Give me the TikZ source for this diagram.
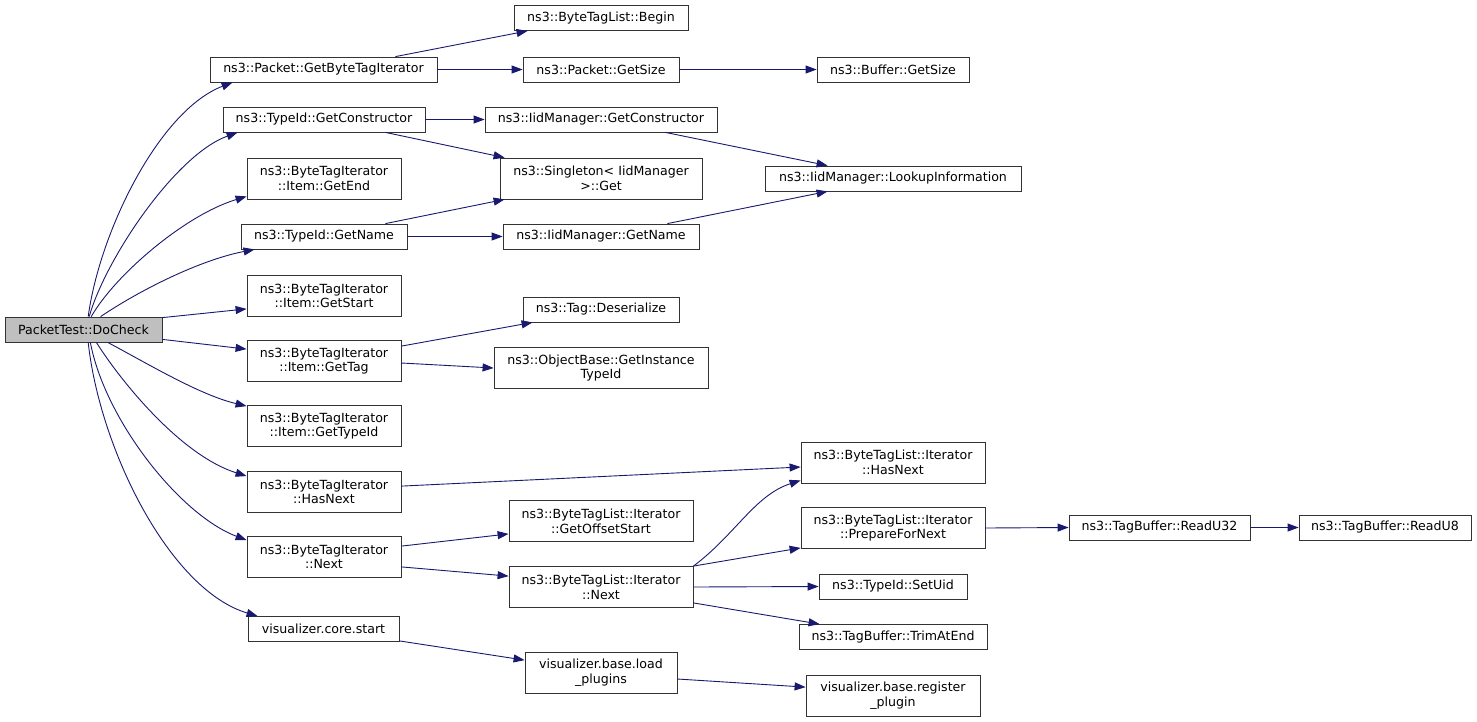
\documentclass[tikz,border=0pt]{standalone}
\usepackage{fontspec}
\setmainfont{DejaVu Sans}
\usepackage{tikz}
\usetikzlibrary{arrows.meta,positioning}
\definecolor{callblue}{HTML}{191970}
\definecolor{docgray}{HTML}{BFBFBF}
\newcommand{\fnfont}{\fontsize{12.6}{14.7}\selectfont}
\tikzset{
  fn/.style={draw=black!80,fill=white,line width=0.8pt,font=\fnfont,align=center,inner sep=2pt,minimum height=25},
  fntwo/.style={fn,minimum height=41},
  call/.style={draw=callblue,line width=0.9pt,-{Triangle[length=11pt,width=8pt]}}
}
\begin{document}
\begin{tikzpicture}[x=1pt,y=-1pt]
\path[fill=white,use as bounding box] (0,0) rectangle (1477,721);
% caller
\node[fn,fill=docgray,minimum width=157] (dochk) at (83.5,329.5) {PacketTest::DoCheck};
% first level callees
\node[fn,minimum width=227] (gbti) at (323.5,69.5) {ns3::Packet::GetByteTagIterator};
\node[fn,minimum width=202] (tgcons) at (324,119.5) {ns3::TypeId::GetConstructor};
\node[fntwo,minimum width=154] (itend) at (324,178.5) {ns3::ByteTagIterator\\::Item::GetEnd};
\node[fn,minimum width=166] (tgname) at (324,236.5) {ns3::TypeId::GetName};
\node[fntwo,minimum width=154] (itstart) at (324,296) {ns3::ByteTagIterator\\::Item::GetStart};
\node[fntwo,minimum width=154] (ittag) at (324,361) {ns3::ByteTagIterator\\::Item::GetTag};
\node[fntwo,minimum width=154] (ittype) at (324,426) {ns3::ByteTagIterator\\::Item::GetTypeId};
\node[fntwo,minimum width=154] (bhasnext) at (324,492) {ns3::ByteTagIterator\\::HasNext};
\node[fntwo,minimum width=154] (bnext) at (324,557) {ns3::ByteTagIterator\\::Next};
\node[fn,minimum width=151] (vstart) at (323.5,629) {visualizer.core.start};
% second level
\node[fn,minimum width=174] (lbegin) at (601,18) {ns3::ByteTagList::Begin};
\node[fn,minimum width=156] (pktsize) at (601,69.5) {ns3::Packet::GetSize};
\node[fn,minimum width=232] (iidcons) at (601,119.5) {ns3::IidManager::GetConstructor};
\node[fntwo,minimum width=202] (single) at (601,178.5) {ns3::Singleton< IidManager\\>::Get};
\node[fn,minimum width=196] (iidname) at (601,236.5) {ns3::IidManager::GetName};
\node[fn,minimum width=156] (deser) at (601,309.5) {ns3::Tag::Deserialize};
\node[fntwo,minimum width=214] (instid) at (601,368) {ns3::ObjectBase::GetInstance\\TypeId};
\node[fntwo,minimum width=184] (offstart) at (601,521) {ns3::ByteTagList::Iterator\\::GetOffsetStart};
\node[fntwo,minimum width=184] (lnext) at (601,587) {ns3::ByteTagList::Iterator\\::Next};
\node[fntwo,minimum width=152] (loadpl) at (601,673) {visualizer.base.load\\\_plugins};
% third level
\node[fn,minimum width=152] (bufsize) at (893,69.5) {ns3::Buffer::GetSize};
\node[fn,minimum width=256] (lookup) at (893,178.5) {ns3::IidManager::LookupInformation};
\node[fntwo,minimum width=184] (lhasnext) at (893,462.5) {ns3::ByteTagList::Iterator\\::HasNext};
\node[fntwo,minimum width=184] (prepnext) at (893,528) {ns3::ByteTagList::Iterator\\::PrepareForNext};
\node[fn,minimum width=148] (setuid) at (893,586.5) {ns3::TypeId::SetUid};
\node[fn,minimum width=188] (trimend) at (893,637) {ns3::TagBuffer::TrimAtEnd};
\node[fntwo,minimum width=174] (regpl) at (893,696) {visualizer.base.register\\\_plugin};
% tag buffer reads
\node[fn,minimum width=181] (readu32) at (1159.5,527.5) {ns3::TagBuffer::ReadU32};
\node[fn,minimum width=172] (readu8) at (1385,527.5) {ns3::TagBuffer::ReadU8};
% calls out of DoCheck
\draw[call] (dochk.70) .. controls (100,230) and (160,110) .. ([xshift=23pt]gbti.south west);
\draw[call] (dochk.66) .. controls (105,260) and (175,155) .. ([xshift=15pt]tgcons.south west);
\draw[call] (dochk.59) .. controls (115,275) and (185,215) .. ([yshift=3pt]itend.south west);
\draw[call] (dochk.37) .. controls (140,290) and (200,260) .. ([xshift=14pt]tgname.south west);
\draw[call] ([yshift=-1pt]dochk.north east) -- ([yshift=8pt]itstart.south west);
\draw[call] ([yshift=3pt]dochk.south east) -- ([yshift=-9pt]ittag.north west);
\draw[call] (dochk.-28) .. controls (150,365) and (200,395) .. ([yshift=-1pt]ittype.north west);
\draw[call] (dochk.-45) .. controls (120,380) and (180,455) .. ([yshift=-5pt]bhasnext.north west);
\draw[call] (dochk.-62) .. controls (105,420) and (180,515) .. ([yshift=-4pt]bnext.north west);
\draw[call] (dochk.-70) .. controls (100,450) and (170,590) .. ([xshift=10pt]vstart.north west);
% deeper calls
\draw[call] ([xshift=-42pt]gbti.north east) -- ([xshift=14pt]lbegin.south west);
\draw[call] (gbti.east) -- (pktsize.west);
\draw[call] (pktsize.east) -- (bufsize.west);
\draw[call] (tgcons.east) -- (iidcons.west);
\draw[call] ([xshift=-40pt]tgcons.south east) -- ([xshift=5pt]single.north west);
\draw[call] ([xshift=-52pt]iidcons.south east) -- ([xshift=63pt]lookup.north west);
\draw[call] ([xshift=-22pt]tgname.north east) -- ([xshift=5pt]single.south west);
\draw[call] (tgname.east) -- (iidname.west);
\draw[call] ([xshift=-32pt]iidname.north east) -- ([xshift=63pt]lookup.south west);
\draw[call] ([yshift=-6pt]ittag.north east) -- ([xshift=10pt]deser.south west);
\draw[call] ([yshift=-2pt]ittag.east) -- (instid.west);
\draw[call] ([yshift=-15pt]bhasnext.north east) -- ([yshift=-4.5pt]lhasnext.west);
\draw[call] ([yshift=-10pt]bnext.north east) -- ([yshift=8pt]offstart.south west);
\draw[call] ([yshift=11pt]bnext.south east) -- ([yshift=-10pt]lnext.north west);
\draw[call] ([yshift=1pt]vstart.south east) -- ([yshift=-8pt]loadpl.north west);
\draw[call] ([yshift=-6pt]loadpl.east) -- ([yshift=-12pt]regpl.north west);
\draw[call] (lnext.north east) .. controls (735,535) and (755,495) .. ([yshift=3pt]lhasnext.south west);
\draw[call] (lnext.north east) -- ([yshift=1pt]prepnext.south west);
\draw[call] (lnext.east) -- (setuid.west);
\draw[call] ([yshift=5pt]lnext.south east) -- ([xshift=21pt]trimend.north west);
\draw[call] (prepnext.east) -- (readu32.west);
\draw[call] (readu32.east) -- (readu8.west);
\end{tikzpicture}
\end{document}
